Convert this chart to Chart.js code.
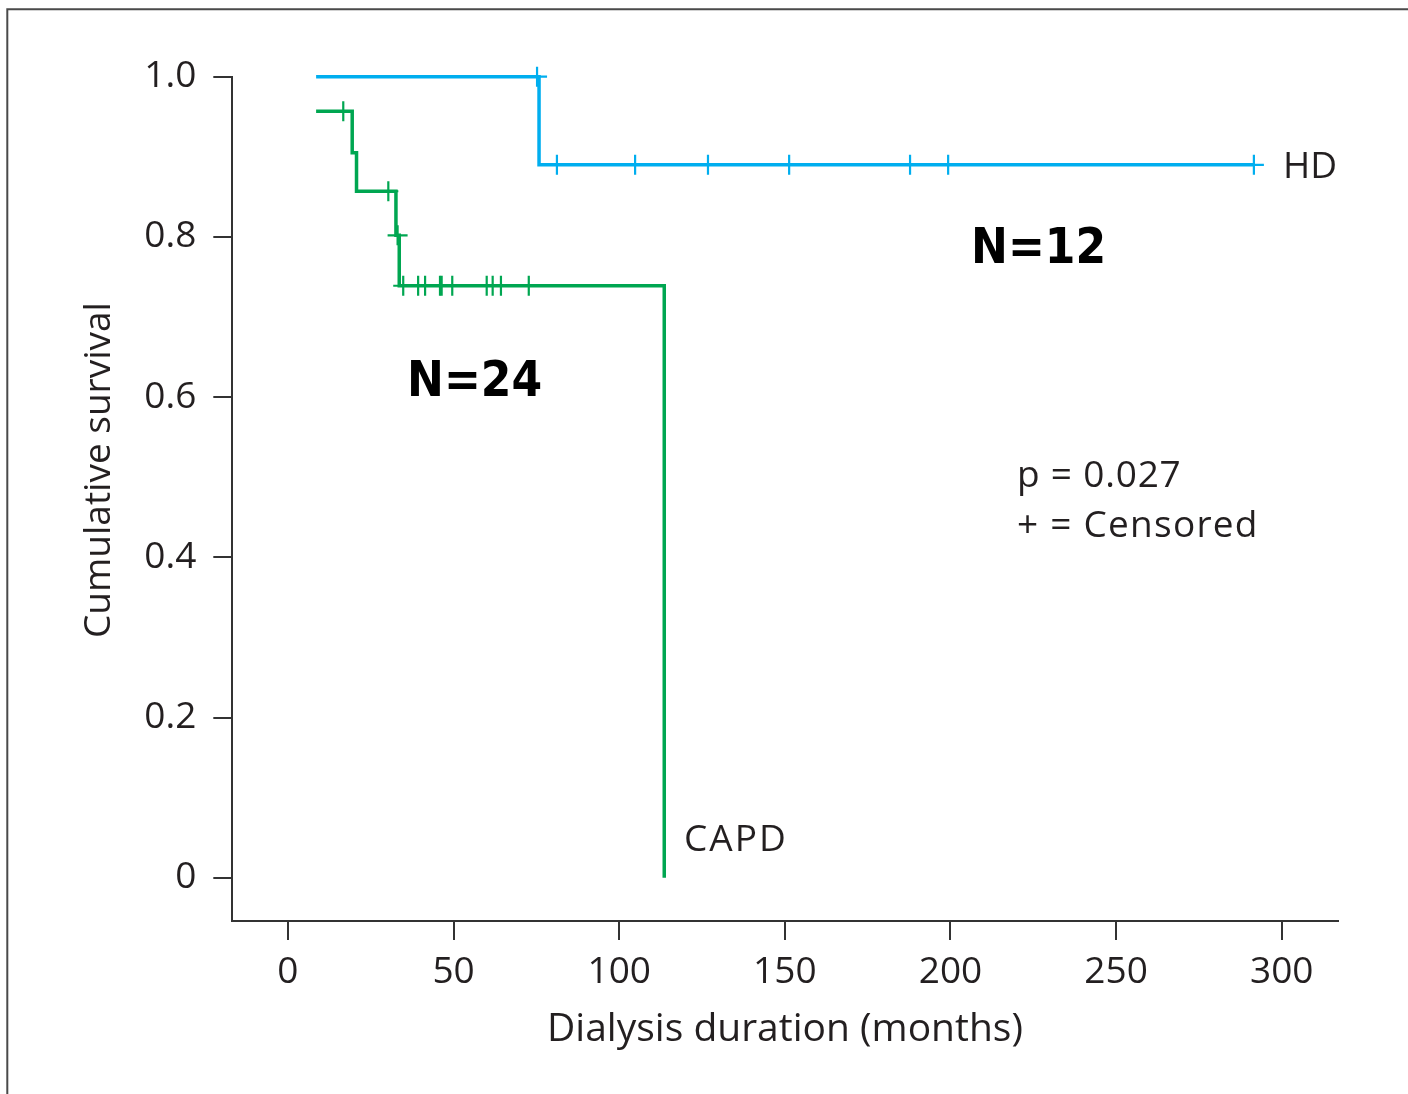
<!DOCTYPE html>
<html><head><meta charset="utf-8">
<script src="https://cdn.jsdelivr.net/npm/chart.js@4.4.1/dist/chart.umd.min.js"></script>
<style>html,body{margin:0;padding:0;background:#fff;overflow:hidden;} #wrap{width:1408px;height:1094px;}</style>
</head><body><div id="wrap"><canvas id="c" width="1408" height="1094"></canvas></div>
<script>
// ---- data ----
const xTicks = [0, 50, 100, 150, 200, 250, 300];
const yTicks = [0, 0.2, 0.4, 0.6, 0.8, 1.0];
const yTickLabels = ['0', '0.2', '0.4', '0.6', '0.8', '1.0'];

// Kaplan-Meier steps: survival level that holds from each time onwards
const hdStepTimes = [8.5, 75.8, 291.6];
const hdStepSurv  = [1.0, 0.89, 0.89];
const capdStepTimes = [8.5, 19.4, 20.7, 32.6, 33.6, 113.6];
const capdStepSurv  = [0.957, 0.905, 0.857, 0.802, 0.739, 0.0];

// censored observations
const hdCensorTimes = [75.2, 81.2, 104.8, 126.8, 151.3, 187.8, 199.3, 291.6];
const hdCensorSurv  = [1.0, 0.89, 0.89, 0.89, 0.89, 0.89, 0.89, 0.89];
const capdCensorTimes = [16.7, 30.3, 33.1, 34.8, 39.3, 41.4, 45.9, 46.4, 49.6, 60.0, 61.8, 64.3, 72.7];
const capdCensorSurv  = [0.957, 0.857, 0.802, 0.739, 0.739, 0.739, 0.739, 0.739, 0.739, 0.739, 0.739, 0.739, 0.739];

const xTitle = 'Dialysis duration (months)';
const yTitle = 'Cumulative survival';

// ---- build step tables ----
function stepPoints(times, surv) {
  const pts = [{x: times[0], y: surv[0]}];
  for (let i = 1; i < times.length; i++) {
    pts.push({x: times[i], y: surv[i - 1]});
    if (surv[i] !== surv[i - 1]) pts.push({x: times[i], y: surv[i]});
  }
  return pts;
}
function pairPoints(xs, ys) { return xs.map((x, i) => ({x, y: ys[i]})); }

const BLUE = '#00aeef';
const GREEN = '#00a651';
const TEXT = '#231f20';
const AXIS = '#333333';
const FONT = "'Open Sans'";

const decor = {
  id: 'decor',
  beforeDraw(chart) {
    const ctx = chart.ctx;
    ctx.save();
    ctx.fillStyle = '#fff';
    ctx.fillRect(0, 0, chart.width, chart.height);
    ctx.strokeStyle = '#4a4a4a';
    ctx.lineWidth = 2;
    ctx.beginPath();
    ctx.moveTo(7.3, chart.height);
    ctx.lineTo(7.3, 9.3);
    ctx.lineTo(chart.width, 9.3);
    ctx.stroke();
    ctx.restore();
  },
  afterDraw(chart) {
    const ctx = chart.ctx;
    ctx.save();
    ctx.textBaseline = 'alphabetic';
    ctx.textAlign = 'left';
    ctx.fillStyle = TEXT;
    ctx.font = "37px " + FONT;
    ctx.fillText('HD', 1283, 178);
    ctx.letterSpacing = '2px';
    ctx.fillText('CAPD', 684, 851);
    ctx.letterSpacing = '0.8px';
    ctx.fillText('p = 0.027', 1017, 487);
    ctx.letterSpacing = '1.25px';
    ctx.fillText('+ = Censored', 1017, 537);
    ctx.letterSpacing = '0px';
    ctx.fillStyle = '#000';
    ctx.font = "bold 49px 'DejaVu Sans Condensed', 'DejaVu Sans'";
    ctx.fillText('N=12', 971, 263);
    ctx.fillText('N=24', 407, 396);
    ctx.restore();
  }
};

new Chart(document.getElementById('c'), {
  type: 'scatter',
  data: {
    datasets: [
      { label: 'HD', data: stepPoints(hdStepTimes, hdStepSurv), showLine: true,
        borderColor: BLUE, borderWidth: 3.5, pointRadius: 0, clip: false,
        borderJoinStyle: 'miter', borderCapStyle: 'butt' },
      { label: 'CAPD', data: stepPoints(capdStepTimes, capdStepSurv), showLine: true,
        borderColor: GREEN, borderWidth: 3.5, pointRadius: 0, clip: false,
        borderJoinStyle: 'miter', borderCapStyle: 'butt' },
      { label: 'HD censored', data: pairPoints(hdCensorTimes, hdCensorSurv), showLine: false,
        pointStyle: 'cross', pointRadius: 10, pointBorderWidth: 2.2, borderColor: BLUE,
        pointBorderColor: BLUE, clip: false },
      { label: 'CAPD censored', data: pairPoints(capdCensorTimes, capdCensorSurv), showLine: false,
        pointStyle: 'cross', pointRadius: 10, pointBorderWidth: 2.2, borderColor: GREEN,
        pointBorderColor: GREEN, clip: false }
    ]
  },
  options: {
    responsive: false,
    animation: false,
    devicePixelRatio: 1,
    events: [],
    layout: { padding: { left: 0, top: 76.7, right: 70.3, bottom: 0 } },
    plugins: { legend: { display: false }, tooltip: { enabled: false } },
    scales: {
      x: {
        type: 'linear', min: -16.8, max: 316.9,
        afterBuildTicks: s => { s.ticks = xTicks.map(v => ({value: v})); },
        afterFit: s => { s.height = 1094 - 921; },
        grid: { drawOnChartArea: false, drawTicks: true, tickLength: 19, color: AXIS, lineWidth: 2 },
        border: { display: true, color: AXIS, width: 2 },
        ticks: { font: { family: FONT, size: 37 }, color: TEXT, padding: 10, maxRotation: 0, autoSkip: false },
        title: { display: true, text: xTitle, font: { family: FONT, size: 39 }, color: TEXT,
                 padding: { top: 0, bottom: 41 } }
      },
      y: {
        type: 'linear', min: -0.054, max: 1.0,
        afterBuildTicks: s => { s.ticks = yTicks.map(v => ({value: v})); },
        afterFit: s => { s.width = 232.3; },
        grid: { drawOnChartArea: false, drawTicks: true, tickLength: 19, color: AXIS, lineWidth: 2 },
        border: { display: true, color: AXIS, width: 2 },
        ticks: { font: { family: FONT, size: 37 }, color: TEXT, padding: 17, autoSkip: false,
                 callback: (v, i) => yTickLabels[i] },
        title: { display: true, text: '      ' + yTitle, font: { family: FONT, size: 37 }, color: TEXT,
                 padding: { top: 77, bottom: 0 } }
      }
    }
  },
  plugins: [decor]
});
</script>
</body></html>
